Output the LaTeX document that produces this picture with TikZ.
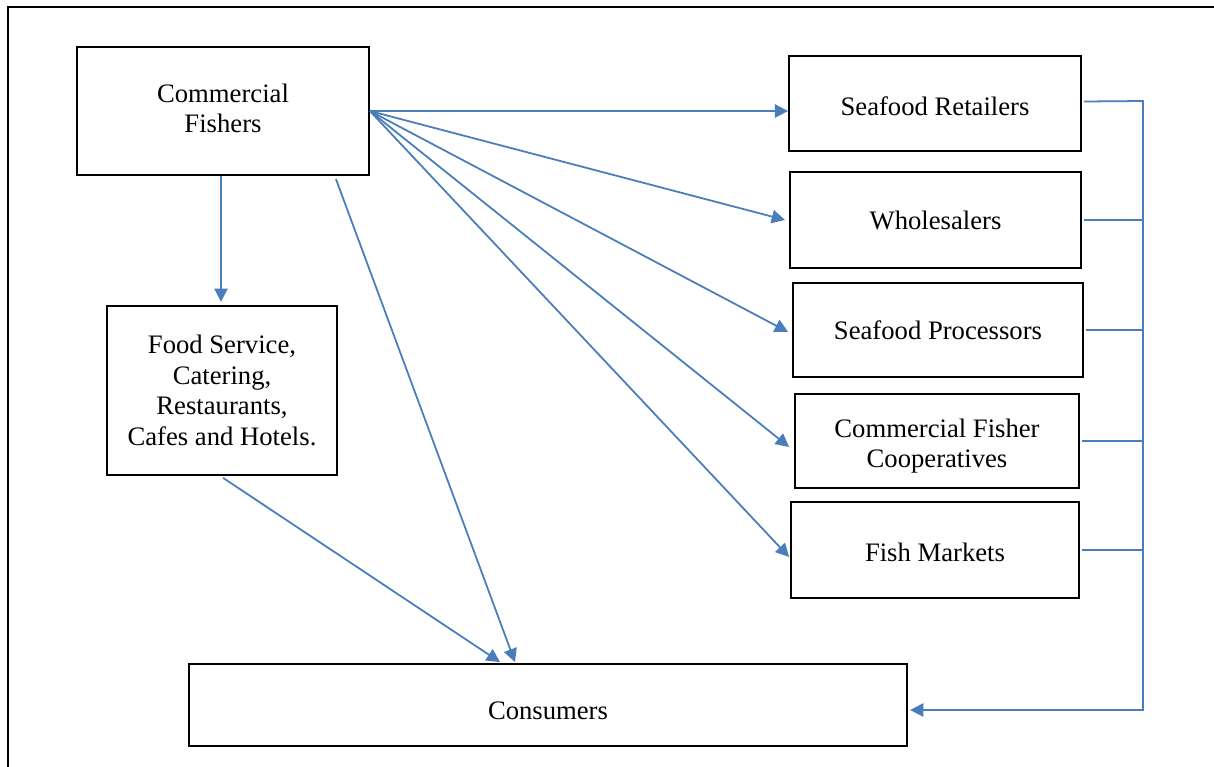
\documentclass[tikz,border=0pt]{standalone}
\usepackage{fontspec}
\setmainfont{Liberation Serif}
\usetikzlibrary{arrows.meta,calc}
\definecolor{linkblue}{HTML}{4A7EBB}
\newcommand{\lowtext}[2]{\raisebox{-#1}[0pt][0pt]{#2}}
\begin{document}
\begin{tikzpicture}[x=0.45pt,y=-0.45pt,
    box/.style={draw,line width=0.8pt,align=center,inner sep=2pt,font=\fontsize{12}{13.8}\selectfont},
    link/.style={color=linkblue,line width=0.8pt},
    arr/.style={link,-{Triangle[length=6pt,width=6pt]}}]
  \useasboundingbox (0,0) rectangle (1214,767);
  \draw[line width=1.3pt] (1214,7) -- (8,7) -- (8,767);

  \node[box,minimum width=131.4pt,minimum height=57.6pt] (fishers) at (223,111) {\lowtext{2.9pt}{Commercial}\\\lowtext{2.9pt}{Fishers}};
  \node[box,minimum width=103.5pt,minimum height=76pt] (food) at (222,390.5) {Food Service,\\Catering,\\Restaurants,\\Cafes and Hotels.};
  \node[box,minimum width=323.1pt,minimum height=36.9pt] (consumers) at (548,705) {\lowtext{6.5pt}{Consumers}};

  \node[box,minimum width=131.4pt,minimum height=42.75pt] (retailers) at (935,103.5) {\lowtext{5.5pt}{Seafood Retailers}};
  \node[box,minimum width=131pt,minimum height=43.2pt] (wholesale) at (935.5,220) {Wholesalers};
  \node[box,minimum width=130.5pt,minimum height=42.3pt] (processors) at (938,330) {Seafood Processors};
  \node[box,minimum width=127.8pt,minimum height=42.3pt] (coops) at (937,441) {\lowtext{5.2pt}{Commercial Fisher}\\\lowtext{5.2pt}{Cooperatives}};
  \node[box,minimum width=129.6pt,minimum height=43.2pt] (markets) at (935,550) {\lowtext{5pt}{Fish Markets}};

  \draw[arr] (fishers.east) -- (retailers.west |- fishers.east);
  \draw[arr] (fishers.east) -- ($(wholesale.west)+(-4,0)$);
  \draw[arr] (fishers.east) -- ($(processors.west)+(-4,2)$);
  \draw[arr] (fishers.east) -- ($(coops.west)+(-5,6)$);
  \draw[arr] (fishers.east) -- ($(markets.west)+(-1,7)$);

  \draw[arr,shorten >=1.5pt] ($(fishers.south)+(-2,0)$) -- ($(fishers.south |- food.north)+(-2,0)$);
  \draw[arr] ($(fishers.south east)+(-34,3)$) -- ($(consumers.north)+(-33,-1)$);
  \draw[arr] ($(food.south)+(1,2)$) -- ($(consumers.north)+(-48,-1)$);

  \coordinate (bus) at (1143,101);
  \draw[arr,shorten >=1pt] ($(retailers.east)+(2,-2)$) -- (bus) -- (bus |- 0,710) -- (consumers.east |- 0,710);
  \foreach \n in {wholesale,processors,coops,markets}
    \draw[link] ($(\n.east)+(2,0)$) -- (\n.east -| bus);
\end{tikzpicture}
\end{document}
